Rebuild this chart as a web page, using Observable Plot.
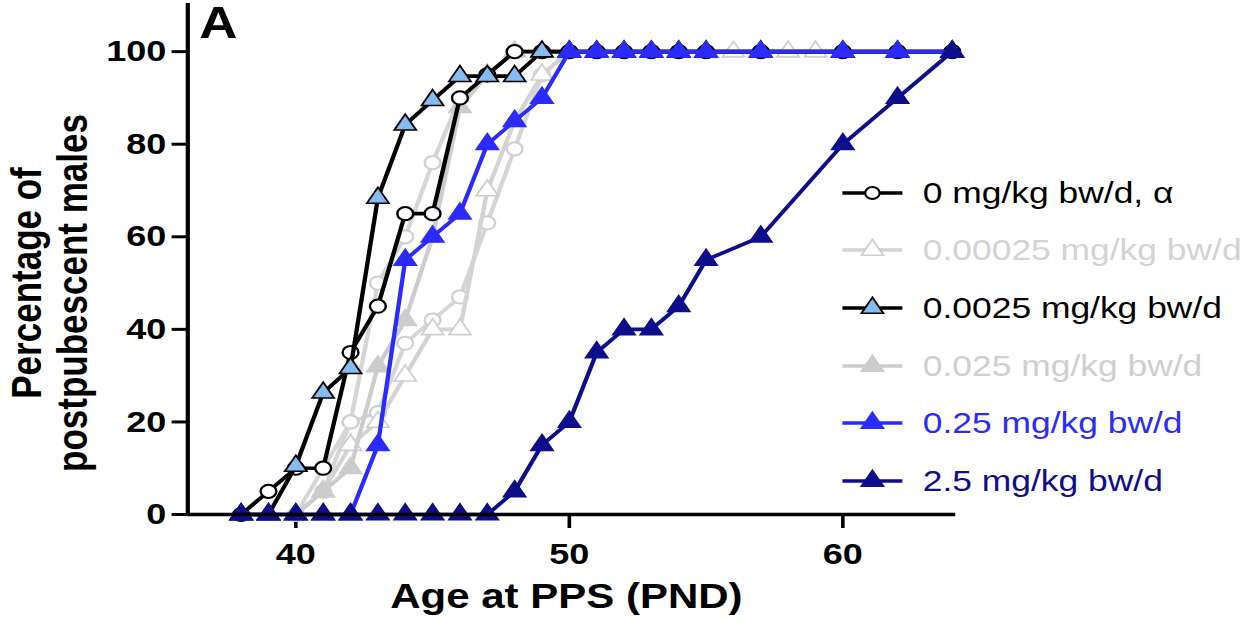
<!DOCTYPE html>
<html><head><meta charset="utf-8">
<script src="https://cdn.jsdelivr.net/npm/d3@7"></script>
<script src="https://cdn.jsdelivr.net/npm/@observablehq/plot@0.6"></script>
<style>
html,body{margin:0;padding:0;background:#fff;overflow:hidden;}
#stage{position:absolute;left:0;top:0;width:1047px;height:635px;transform:scaleX(1.2);transform-origin:0 0;font-family:"Liberation Sans",Arial,sans-serif;}
.lab{position:absolute;font-weight:bold;color:#000;white-space:nowrap;line-height:1.15;}
#legend{position:absolute;left:702px;top:164px;}
.item{height:57.6px;display:flex;align-items:center;font-size:29.5px;white-space:nowrap;}
.item svg{margin-right:17px;overflow:visible;}
</style></head>
<body><div id="stage"></div>
<script>
// ---- data (day = postnatal day, pct = cumulative % postpubescent) ----
const seriesNames = ["0 mg/kg bw/d, \u03b1","0.00025 mg/kg bw/d","0.0025 mg/kg bw/d","0.025 mg/kg bw/d","0.25 mg/kg bw/d","2.5 mg/kg bw/d"];

const d0   = [38,39,40,41,42,43,44,45,46,47,48,49,50,51,52,53,54,55,57,60,62,64];
const p0   = [0,5,10,10,35,45,65,65,90,95,100,100,100,100,100,100,100,100,100,100,100,100];

const d00025 = [40,41,42,43,44,45,46,47,48,49,50,51,52,53,54,55,56,57,58,59,60,62,64];
const p00025 = [0,5,15,20,30,40,40,70,85,95,100,100,100,100,100,100,100,100,100,100,100,100,100];

const d0025 = [38,39,40,41,42,43,44,45,46,47,48,49,50,51,52,53,54,55,57,60,62,64];
const p0025 = [0,0,10.5,26.3,31.6,68.4,84.2,89.5,94.7,94.7,94.7,100,100,100,100,100,100,100,100,100,100,100];

const d025 = [40,41,42,43,44,45,46,47,48,49,50,51,52,53,54,55,57,60,62,64];
const p025 = [0,5,10,32,42,60,88,95,100,100,100,100,100,100,100,100,100,100,100,100];

const d25 = [38,39,40,41,42,43,44,45,46,47,48,49,50,51,52,53,54,55,57,60,62,64];
const p25 = [0,0,0,0,0,15,55,60,65,80,85,90,100,100,100,100,100,100,100,100,100,100];

const d250 = [38,39,40,41,42,43,44,45,46,47,48,49,50,51,52,53,54,55,57,60,62,64];
const p250 = [0,0,0,0,0,0,0,0,0,0,5,15,20,35,40,40,45,55,60,80,90,100];

// unlabelled grey background groups (open grey circles)
const dGa = [40,41,42,43,44,45,46,47,48,49,50];
const pGa = [0,5,20,50,60,76,90,95,100,100,100];
const dGb = [40,41,42,43,44,45,46,47,48,49,50];
const pGb = [0,10,20,22,37,42,47,63,79,95,100];

const xTicks = [40,50,60];
const yTicks = [0,20,40,60,80,100];

// ---- styles ----
const styles = [
  {stroke:"#000", symbol:"circle", fill:"#fff", mstroke:"#000", text:"#000"},
  {stroke:"#d3d3d3", symbol:"triangle", fill:"#fff", mstroke:"#cfcfcf", text:"#d3d3d3"},
  {stroke:"#000", symbol:"triangle", fill:"#86bdf0", mstroke:"#000", text:"#000"},
  {stroke:"#cccccc", symbol:"triangle", fill:"#cccccc", mstroke:"#cccccc", text:"#cfcfcf"},
  {stroke:"#2b2bff", symbol:"triangle", fill:"#2b2bff", mstroke:"#2b2bff", text:"#2b2bff"},
  {stroke:"#0e0e8c", symbol:"triangle", fill:"#0e0e8c", mstroke:"#0e0e8c", text:"#0e0e8c"}
];
const rows = (d,p) => d.map((x,i)=>({day:x,pct:p[i]}));
const series = [rows(d0,p0),rows(d00025,p00025),rows(d0025,p0025),rows(d025,p025),rows(d25,p25),rows(d250,p250)];

const marks = [];
function addSeries(data, st){
  marks.push(Plot.line(data,{x:"day",y:"pct",stroke:st.stroke,strokeWidth:3.6}));
  marks.push(Plot.dot(data,{x:"day",y:"pct",symbol:()=>st.symbol,r:st.symbol==="circle"?6.6:6.8,fill:st.fill,stroke:st.mstroke,strokeWidth:st.symbol==="circle"?2:1.6}));
}
const greyCirc = {stroke:"#d6d6d6", symbol:"circle", fill:"#fff", mstroke:"#d0d0d0"};
addSeries(rows(dGa,pGa), greyCirc);
addSeries(rows(dGb,pGb), greyCirc);
addSeries(series[1], styles[1]);
addSeries(series[3], styles[3]);
addSeries(series[0], styles[0]);
addSeries(series[2], styles[2]);
addSeries(series[4], styles[4]);
addSeries(series[5], styles[5]);

const chart = Plot.plot({
  width:1047, height:635,
  marginLeft:156, marginRight:251, marginTop:3, marginBottom:121,
  x:{domain:[36.05,64.13]},
  y:{domain:[0,110.4]},
  style:{fontFamily:'"Liberation Sans",Arial,sans-serif', background:"#fff", overflow:"visible"},
  marks:[
    Plot.axisY({ticks:yTicks, tickSize:13, tickPadding:5, strokeWidth:3, fontSize:30, fontWeight:"bold", label:null, color:"#000"}),
    Plot.axisX({ticks:xTicks, tickSize:14, tickPadding:14, strokeWidth:3, fontSize:30, fontWeight:"bold", label:null, color:"#000"}),
    ...marks,
    Plot.ruleX([36.05],{strokeWidth:3.5}),
    Plot.ruleY([0],{strokeWidth:3.5})
  ]
});
const stage = document.getElementById("stage");
stage.appendChild(chart);
chart.style.position="absolute"; chart.style.left="0"; chart.style.top="0";

function lab(txt, css){ const e=document.createElement("div"); e.className="lab"; e.textContent=txt; Object.assign(e.style, css); stage.appendChild(e); return e; }
lab("A",{left:"166px",top:"1px",fontSize:"44px",lineHeight:"1"});
lab("Age at PPS (PND)",{left:"472px",top:"576px",fontSize:"35px",transform:"translateX(-50%)"});
lab("Percentage of",{left:"22px",top:"283px",fontSize:"35px",transform:"translate(-50%,-50%) rotate(-90deg)"});
lab("postpubescent males",{left:"61px",top:"293px",fontSize:"35px",transform:"translate(-50%,-50%) rotate(-90deg)"});

// legend
const leg = document.createElement("div"); leg.id="legend"; stage.appendChild(leg);
seriesNames.forEach((name,i)=>{
  const st = styles[i];
  const it = document.createElement("div"); it.className="item"; it.style.color = st.text;
  const ns="http://www.w3.org/2000/svg";
  const s = document.createElementNS(ns,"svg"); s.setAttribute("width","50"); s.setAttribute("height","20");
  const ln = document.createElementNS(ns,"line"); ln.setAttribute("x1","0"); ln.setAttribute("x2","50"); ln.setAttribute("y1","10"); ln.setAttribute("y2","10");
  ln.setAttribute("stroke",st.stroke); ln.setAttribute("stroke-width","3.6"); s.appendChild(ln);
  const sym = document.createElementNS(ns,"path");
  const size = st.symbol==="circle" ? Math.PI*36 : Math.PI*46;
  sym.setAttribute("d", d3.symbol(st.symbol==="circle"?d3.symbolCircle:d3.symbolTriangle, size)());
  sym.setAttribute("transform","translate(25,10)");
  sym.setAttribute("fill",st.fill); sym.setAttribute("stroke",st.mstroke); sym.setAttribute("stroke-width", st.symbol==="circle"?"1.8":"1.6");
  s.appendChild(sym);
  it.appendChild(s);
  const t = document.createElement("span"); t.textContent=name; it.appendChild(t);
  leg.appendChild(it);
});
</script></body></html>
